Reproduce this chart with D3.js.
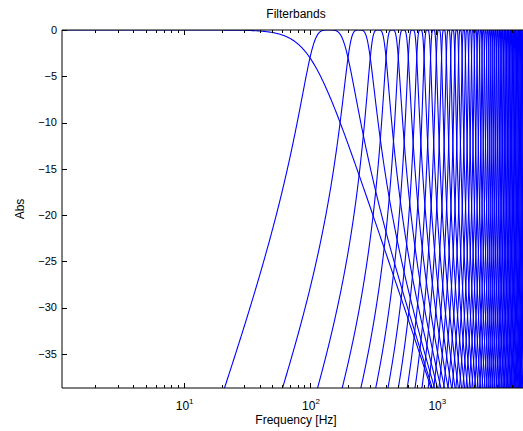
<!DOCTYPE html>
<html>
<head>
<meta charset="utf-8">
<script src="https://cdn.jsdelivr.net/npm/d3@7/dist/d3.min.js"></script>
<style>
  body { margin: 0; background: #fff; }
  text { font-family: "Liberation Sans", Arial, Helvetica, sans-serif; fill: #000; }
</style>
</head>
<body>
<svg id="chart" width="523" height="431"></svg>
<script>
// Filter bank edges in Hz: a low-pass below the first non-zero edge,
// then one band-pass between each pair of consecutive edges.
const bandEdges = [
  0, 100, 200, 300, 400, 500, 600, 700, 800, 900,
  1000, 1100, 1200, 1300, 1400, 1500, 1600, 1700, 1800, 1900,
  2000, 2100, 2200, 2300, 2400, 2500, 2600, 2700, 2800, 2900,
  3000, 3100, 3200, 3300, 3400, 3500, 3600, 3700, 3800, 3900,
  4000, 4100, 4200, 4300, 4400, 4500, 4600, 4700, 4800, 4900,
  5000, 5100, 5200, 5300, 5400, 5500
];
const sampleRate = 11025;      // Hz
const filterOrder = 2;         // Butterworth prototype order
const freqDomain = [1.09, 5512.5];
const absDomain = [-38.7, 0];
const xTickValues = [10, 100, 1000];
const xTickExponents = ["1", "2", "3"];
const yTickValues = [0, -5, -10, -15, -20, -25, -30, -35];

const W = 523, H = 431;
const plot = { left: 62, right: 530, top: 30, bottom: 388 };

const svg = d3.select("#chart");
const x = d3.scaleLog().domain(freqDomain).range([plot.left, plot.right]);
const y = d3.scaleLinear().domain(absDomain).range([plot.bottom, plot.top]);

// Digital Butterworth magnitude (bilinear transform, pre-warped edges), in dB
const nyq = sampleRate / 2;
const warp = f => Math.tan(Math.PI * Math.min(f, nyq * 0.999999) / sampleRate);
const unwarp = w => Math.atan(w) * sampleRate / Math.PI;

function lowpassDb(f, fc) {
  const r = warp(f) / warp(fc);
  return -10 * Math.log10(1 + Math.pow(r, 2 * filterOrder));
}
function bandpassDb(f, f1, f2) {
  const w = warp(f), w1 = warp(f1), w2 = warp(f2);
  const t = (w * w - w1 * w2) / (w * (w2 - w1));
  return -10 * Math.log10(1 + Math.pow(t, 2 * filterOrder));
}

// Frequency span where a response stays above the given floor
const floorDb = -45;
const tLimit = Math.pow(Math.pow(10, -floorDb / 10) - 1, 1 / (2 * filterOrder));
function span(f1, f2) {
  if (f1 === 0) return [freqDomain[0], Math.min(freqDomain[1], unwarp(tLimit * warp(f2)))];
  const w1 = warp(f1), w2 = warp(f2), B = w2 - w1, P = w1 * w2;
  const root = t => (t * B + Math.sqrt(t * t * B * B + 4 * P)) / 2;
  return [Math.max(freqDomain[0], unwarp(root(-tLimit))), Math.min(freqDomain[1], unwarp(root(tLimit)))];
}

const filters = d3.pairs(bandEdges).map(([f1, f2]) => {
  const [lo, hi] = span(f1, f2);
  const n = 500;
  return d3.range(n + 1).map(i => {
    const f = lo * Math.pow(hi / lo, i / n);
    return [f, f1 === 0 ? lowpassDb(f, f2) : bandpassDb(f, f1, f2)];
  });
});

svg.append("defs").append("clipPath").attr("id", "plot-clip")
  .append("rect")
  .attr("x", plot.left).attr("y", plot.top)
  .attr("width", plot.right - plot.left).attr("height", plot.bottom - plot.top);

const line = d3.line().x(d => x(d[0])).y(d => y(d[1]));

svg.append("g").attr("clip-path", "url(#plot-clip)")
  .selectAll("path").data(filters).join("path")
  .attr("d", line)
  .attr("fill", "none")
  .attr("stroke", "#0000ff")
  .attr("stroke-width", 1.1);

// Axes frame
const frame = svg.append("g").attr("stroke", "#000").attr("stroke-width", 1).attr("fill", "none");
frame.append("path").attr("d", `M${plot.left},${plot.top}V${plot.bottom}H${W}`);
frame.append("path").attr("d", `M${plot.left},${plot.top}H${W}`);

// Log-axis ticks (major and minor), drawn inward on bottom and top
const minorTicks = x.ticks().filter(v => !xTickValues.includes(v));
const ticks = svg.append("g").attr("stroke", "#000").attr("stroke-width", 1);
minorTicks.forEach(v => {
  const px = Math.round(x(v)) + 0.5;
  ticks.append("line").attr("x1", px).attr("x2", px).attr("y1", plot.bottom).attr("y2", plot.bottom - 3);
  ticks.append("line").attr("x1", px).attr("x2", px).attr("y1", plot.top).attr("y2", plot.top + 3);
});
xTickValues.forEach(v => {
  const px = Math.round(x(v)) + 0.5;
  ticks.append("line").attr("x1", px).attr("x2", px).attr("y1", plot.bottom).attr("y2", plot.bottom - 5);
  ticks.append("line").attr("x1", px).attr("x2", px).attr("y1", plot.top).attr("y2", plot.top + 5);
});
yTickValues.forEach(v => {
  const py = Math.round(y(v)) + 0.5;
  ticks.append("line").attr("x1", plot.left).attr("x2", plot.left + 5).attr("y1", py).attr("y2", py);
});

// Tick labels
xTickValues.forEach((v, i) => {
  const t = svg.append("text").attr("x", x(v) + 1).attr("y", 410)
    .attr("text-anchor", "middle").attr("font-size", 12);
  t.append("tspan").text("10");
  t.append("tspan").attr("dy", -6).attr("font-size", 8).text(xTickExponents[i]);
});
yTickValues.forEach(v => {
  svg.append("text").attr("x", 57).attr("y", y(v)).attr("dy", "0.36em")
    .attr("text-anchor", "end").attr("font-size", 11)
    .text(v === 0 ? "0" : "\u2212" + Math.abs(v));
});

// Titles
const midX = (plot.left + plot.right) / 2;
svg.append("text").attr("x", midX).attr("y", 18).attr("text-anchor", "middle")
  .attr("font-size", 12).text("Filterbands");
svg.append("text").attr("x", midX).attr("y", 424).attr("text-anchor", "middle")
  .attr("font-size", 12).text("Frequency [Hz]");
svg.append("text").attr("transform", `translate(24,${(plot.top + plot.bottom) / 2}) rotate(-90)`)
  .attr("text-anchor", "middle").attr("font-size", 12).text("Abs");
</script>
</body>
</html>
